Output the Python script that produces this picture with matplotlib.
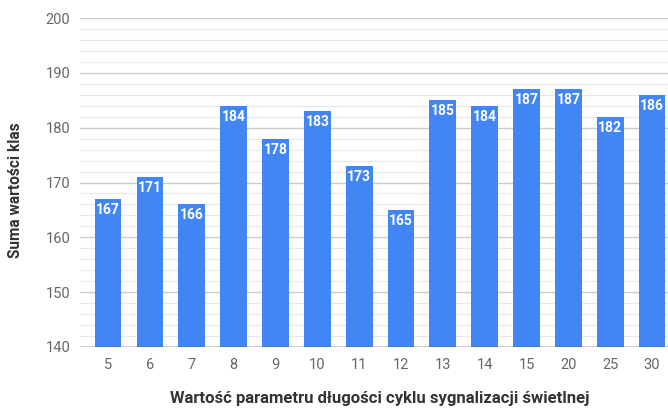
import matplotlib.pyplot as plt
from matplotlib.ticker import MultipleLocator

# Data
categories = ["5", "6", "7", "8", "9", "10", "11", "12", "13", "14", "15", "20", "25", "30"]
values = [167, 171, 166, 184, 178, 183, 173, 165, 185, 184, 187, 187, 182, 186]

plt.rcParams["font.family"] = ["Roboto", "DejaVu Sans"]

fig = plt.figure(figsize=(6.68, 4.12), dpi=100)
ax = fig.add_axes([0.1198, 0.158, 0.8802, 0.798])

x = range(len(categories))
ax.bar(x, [v - 140 for v in values], bottom=140, width=0.64, color="#4285f4", zorder=3)

# Value labels inside the top of each bar
for i, v in enumerate(values):
    ax.text(i, v - 0.7, str(v), ha="center", va="top", color="white",
            fontsize=10, fontweight="bold", zorder=4)

ax.set_xlim(-0.67, len(categories) - 0.62)
ax.set_ylim(140, 200)
ax.yaxis.set_major_locator(MultipleLocator(10))
ax.yaxis.set_minor_locator(MultipleLocator(2))
ax.grid(axis="y", which="major", color="#cccccc", linewidth=1, zorder=0)
ax.grid(axis="y", which="minor", color="#e8e8e8", linewidth=0.8, zorder=0)
ax.axhline(140, color="#333333", linewidth=1, zorder=5)

ax.set_xticks(list(x))
ax.set_xticklabels(categories)
ax.tick_params(axis="both", which="both", length=0, colors="#666666", labelsize=10.5)
ax.tick_params(axis="x", pad=8)
ax.tick_params(axis="y", pad=7)

for s in ax.spines.values():
    s.set_visible(False)

ax.set_xlabel("Wartość parametru długości cyklu sygnalizacji świetlnej",
              fontsize=12, fontweight="bold", color="#333333")
ax.xaxis.set_label_coords(0.51, -0.133)
ax.set_ylabel("Suma wartości klas", fontsize=11.2, fontweight="bold", color="#333333")
ax.yaxis.set_label_coords(-0.097, 0.477)

plt.savefig("out.png", dpi=100)
